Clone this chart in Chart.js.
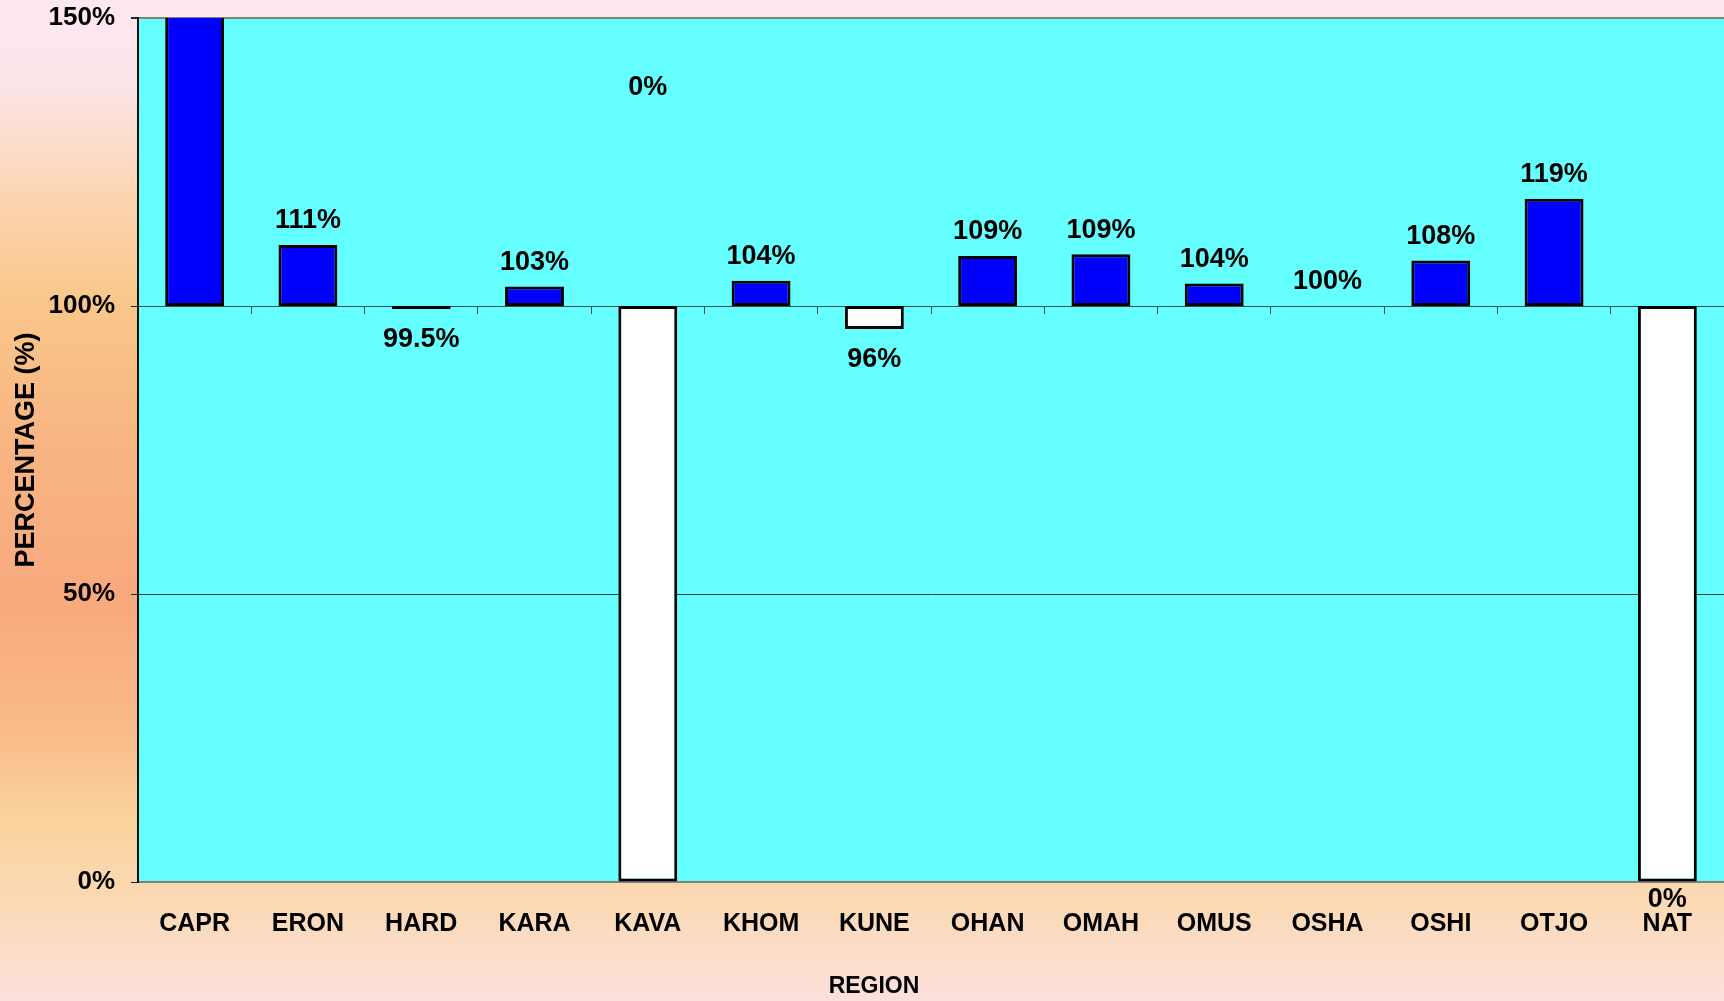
<!DOCTYPE html>
<html>
<head>
<meta charset="utf-8">
<script src="https://cdn.jsdelivr.net/npm/chart.js@4/dist/chart.umd.min.js"></script>
<style>
html,body{margin:0;padding:0;overflow:hidden;}
#wrap{width:1724px;height:1001px;position:relative;}
</style>
</head>
<body>
<div id="wrap"><canvas id="c" width="1724" height="1001"></canvas></div>
<script>
const categories = ['CAPR','ERON','HARD','KARA','KAVA','KHOM','KUNE','OHAN','OMAH','OMUS','OSHA','OSHI','OTJO','NAT'];
const baseline = 100;
const values = [160, 110.6, 99.5, 103.4, 0, 104.4, 96.0, 108.7, 109.0, 103.9, 100, 107.9, 118.6, 0];
const valueLabels = ['', '111%', '99.5%', '103%', '0%', '104%', '96%', '109%', '109%', '104%', '100%', '108%', '119%', '0%'];
const labelAnchor = [null, null, null, null, 138, null, null, null, null, null, null, null, null, -3];
const yTicks = [0, 50, 100, 150];
const xTitle = 'REGION';

const FONT = "'Liberation Sans', Arial, sans-serif";

const bgPlugin = {
  id: 'bg',
  beforeDraw(chart) {
    const ctx = chart.ctx;
    const g = ctx.createLinearGradient(0, 0, 0, chart.height);
    g.addColorStop(0, '#fde8ee');
    g.addColorStop(0.08, '#fde5ea');
    g.addColorStop(0.2, '#fbd4b0');
    g.addColorStop(0.3, '#f9c78a');
    g.addColorStop(0.45, '#f8b482');
    g.addColorStop(0.6, '#f8a97e');
    g.addColorStop(0.72, '#f9b988');
    g.addColorStop(0.82, '#fad39e');
    g.addColorStop(0.9, '#fbd9b4');
    g.addColorStop(1, '#fce1dc');
    ctx.save();
    ctx.fillStyle = g;
    ctx.fillRect(0, 0, chart.width, chart.height);
    const a = chart.chartArea;
    ctx.fillStyle = '#66ffff';
    ctx.fillRect(a.left, a.top, a.right - a.left, a.bottom - a.top);
    ctx.restore();
  }
};

const labelPlugin = {
  id: 'vlabels',
  afterDatasetsDraw(chart) {
    const ctx = chart.ctx;
    const meta = chart.getDatasetMeta(0);
    const y = chart.scales.y;
    ctx.save();
    ctx.font = 'bold 27px ' + FONT;
    ctx.fillStyle = '#000';
    ctx.textAlign = 'center';
    ctx.textBaseline = 'middle';
    meta.data.forEach((bar, i) => {
      const v = values[i];
      let cy;
      if (labelAnchor[i] !== null) cy = y.getPixelForValue(labelAnchor[i]);
      else if (v >= baseline) cy = y.getPixelForValue(v) - 24;
      else cy = y.getPixelForValue(v) + 31;
      ctx.fillText(valueLabels[i], bar.x, cy);
    });
    // x axis title
    ctx.font = 'bold 23px ' + FONT;
    ctx.textBaseline = 'middle';
    ctx.fillText(xTitle, chart.width / 2 + 12, chart.height - 14);
    ctx.restore();
  }
};

new Chart(document.getElementById('c'), {
  type: 'bar',
  data: {
    labels: categories,
    datasets: [{
      data: values.map(v => [baseline, v]),
      backgroundColor: values.map(v => v >= baseline ? '#0000ff' : '#ffffff'),
      borderColor: '#000000',
      borderWidth: values.map(v => v === baseline ? 0 : 3),
      borderSkipped: false,
      barPercentage: 0.52,
      categoryPercentage: 1.0
    }]
  },
  options: {
    responsive: false,
    devicePixelRatio: 1,
    animation: false,
    layout: { padding: { top: 18, left: 0, right: -3, bottom: 0 } },
    plugins: { legend: { display: false }, tooltip: { enabled: false } },
    scales: {
      x: {
        type: 'category',
        position: 'bottom',
        grid: { display: false, drawTicks: false },
        border: { display: true, color: '#808080', width: 2 },
        ticks: { color: '#000', font: { family: FONT, size: 25, weight: 'bold' }, padding: 27, maxRotation: 0, autoSkip: false },
        title: { display: false },
        afterFit(s) { s.height = 119; s.paddingLeft = 0; s.paddingRight = 0; }
      },
      x2: {
        type: 'category',
        labels: categories,
        position: { y: 100 },
        grid: { display: true, drawOnChartArea: false, drawTicks: true, tickLength: 7, offset: true, color: '#2f4f4f', lineWidth: 1 },
        border: { display: true, color: '#3a4a4a', width: 1 },
        ticks: { display: false },
        afterFit(s) { s.paddingLeft = 0; s.paddingRight = 0; }
      },
      y: {
        min: 0, max: 150,
        afterBuildTicks(s) { s.ticks = yTicks.map(v => ({ value: v })); },
        grid: {
          drawTicks: true, tickLength: 7,
          color: ctx => (ctx.tick && (ctx.tick.value === 150 || ctx.tick.value === 0)) ? '#808080' : '#2a3a3a',
          lineWidth: ctx => (ctx.tick && ctx.tick.value === 150) ? 2 : 1,
          tickColor: '#222'
        },
        border: { display: true, color: '#111', width: 2 },
        ticks: { color: '#000', font: { family: FONT, size: 26, weight: 'bold' }, padding: 16, callback: v => v + '%' },
        title: { display: true, text: 'PERCENTAGE (%)', color: '#000', font: { family: FONT, size: 27, weight: 'bold' }, padding: { top: 10, bottom: 0 } },
        afterFit(s) { s.width = 138; s.paddingTop = 0; s.paddingBottom = 0; }
      }
    }
  },
  plugins: [bgPlugin, labelPlugin]
});
</script>
</body>
</html>
